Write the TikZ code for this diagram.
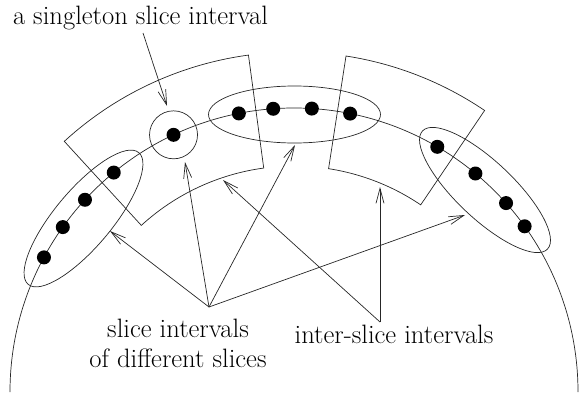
\documentclass[tikz,border=0pt]{standalone}
\usepackage{fontspec}
\setmainfont{Latin Modern Roman}
\usetikzlibrary{arrows.meta,calc,shapes.geometric}
\begin{document}
\begin{tikzpicture}[x=1pt,y=1pt,
  line/.style={draw=black!85, line width=0.7pt},
  ptr/.style={line, -{Straight Barb[length=15pt,width=8pt]}},
  dot/.style={circle, fill=black, inner sep=0pt, minimum size=14pt},
  grp/.style={ellipse, line, inner sep=0pt, minimum width=172pt, minimum height=57pt},
  lbl/.style={font=\fontsize{26.6}{30}\selectfont, inner sep=0pt, anchor=base}]
\useasboundingbox (0,0) rectangle (580,392);
\coordinate (C) at (294,0);
% the big arc
\draw[line] (10,0) arc[start angle=180, end angle=0, radius=284];
% the two slices (annular sectors)
\draw[line] ($(C)+(132.5:340)$) arc[start angle=132.5, end angle=97.7, radius=340]
  -- ($(C)+(97.7:226)$) arc[start angle=97.7, end angle=132.5, radius=226] -- cycle;
\draw[line] ($(C)+(81.2:340)$) arc[start angle=81.2, end angle=55.9, radius=340]
  -- ($(C)+(55.9:226)$) arc[start angle=55.9, end angle=81.2, radius=226] -- cycle;
% dots
\foreach \a [count=\i] in {151.7,144.5,137.4,129.4,115.1,101.2,94.2,86.4,78.6,59.7,50.3,41.7,35.7}
  \node[dot] (d\i) at ($(C)+(\a:284)$) {};
% interval groups
\node[grp, rotate=50] (eL) at (83.5,173.5) {};
\node[grp] (eT) at (294.5,277.5) {};
\node[grp, rotate=-43.4] (eR) at (485,202) {};
\node[circle, line, inner sep=0pt, minimum size=48pt] (eS) at (d5) {};
% labels
\node[lbl] (t1) at (140.5,367) {a singleton slice interval};
\node[lbl] (t2a) at (178,55) {slice intervals};
\node[lbl] (t2b) at (178,25) {of different slices};
\node[lbl] (t3) at (394,49) {inter-slice intervals};
% arrow coordinates
\coordinate (s0) at (143,359);
\coordinate (sT) at (167,286);
\coordinate (v1) at (209,85);
\coordinate (v2) at (380,70);
\coordinate (a1) at (110,161);
\coordinate (a2) at (185,230);
\coordinate (a3) at (295,247);
\coordinate (a4) at (465,177);
\coordinate (b1) at (380,205);
\coordinate (b2) at (223,212);
% arrows
\draw[ptr] (s0) -- (sT);
\foreach \t in {a1,a2,a3,a4} \draw[ptr] (v1) -- (\t);
\foreach \t in {b1,b2} \draw[ptr] (v2) -- (\t);
\end{tikzpicture}
\end{document}
